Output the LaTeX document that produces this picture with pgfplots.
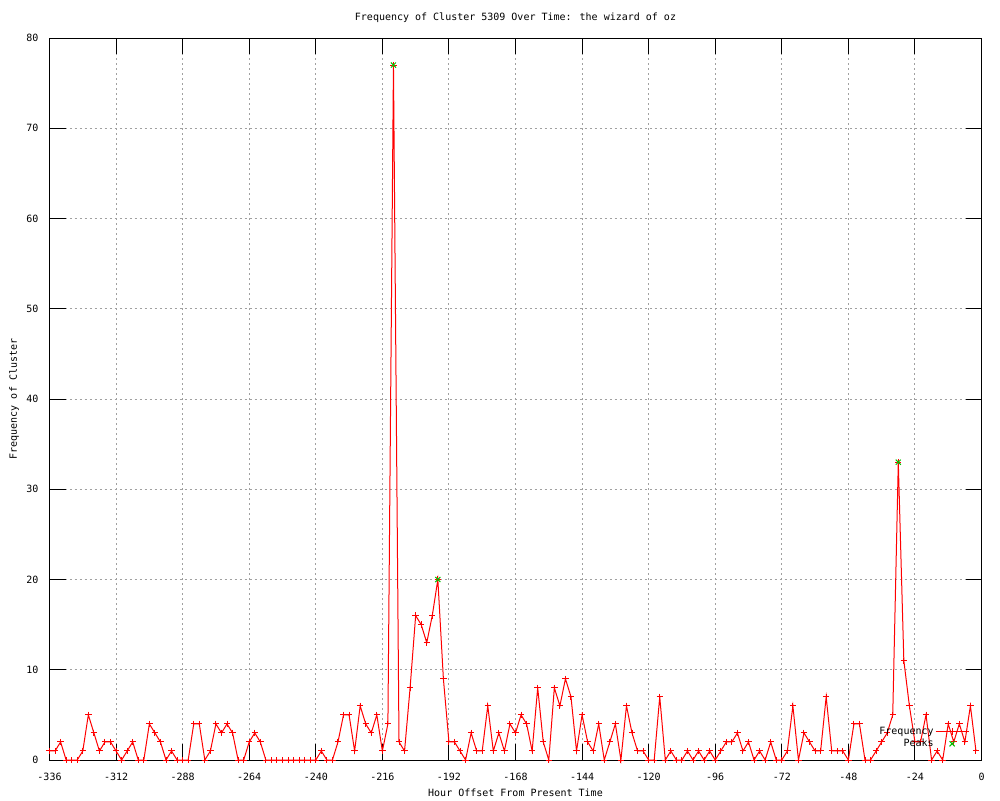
\documentclass[border=0pt]{standalone}
\usepackage{pgfplots}
\pgfplotsset{compat=1.18}
\usepackage{pgfplotstable}
\usepackage{fontspec}
\setmainfont{DejaVu Sans Mono}
\newcommand{\gpf}{\fontsize{5pt}{6pt}\selectfont}
\definecolor{gpred}{RGB}{255,0,0}
\definecolor{gpgreen}{RGB}{0,192,0}
\definecolor{gpgrid}{RGB}{160,160,160}

\pgfplotstableread{
h v
-336 1
-334 1
-332 2
-330 0
-328 0
-326 0
-324 1
-322 5
-320 3
-318 1
-316 2
-314 2
-312 1
-310 0
-308 1
-306 2
-304 0
-302 0
-300 4
-298 3
-296 2
-294 0
-292 1
-290 0
-288 0
-286 0
-284 4
-282 4
-280 0
-278 1
-276 4
-274 3
-272 4
-270 3
-268 0
-266 0
-264 2
-262 3
-260 2
-258 0
-256 0
-254 0
-252 0
-250 0
-248 0
-246 0
-244 0
-242 0
-240 0
-238 1
-236 0
-234 0
-232 2
-230 5
-228 5
-226 1
-224 6
-222 4
-220 3
-218 5
-216 1
-214 4
-212 77
-210 2
-208 1
-206 8
-204 16
-202 15
-200 13
-198 16
-196 20
-194 9
-192 2
-190 2
-188 1
-186 0
-184 3
-182 1
-180 1
-178 6
-176 1
-174 3
-172 1
-170 4
-168 3
-166 5
-164 4
-162 1
-160 8
-158 2
-156 0
-154 8
-152 6
-150 9
-148 7
-146 1
-144 5
-142 2
-140 1
-138 4
-136 0
-134 2
-132 4
-130 0
-128 6
-126 3
-124 1
-122 1
-120 0
-118 0
-116 7
-114 0
-112 1
-110 0
-108 0
-106 1
-104 0
-102 1
-100 0
-98 1
-96 0
-94 1
-92 2
-90 2
-88 3
-86 1
-84 2
-82 0
-80 1
-78 0
-76 2
-74 0
-72 0
-70 1
-68 6
-66 0
-64 3
-62 2
-60 1
-58 1
-56 7
-54 1
-52 1
-50 1
-48 0
-46 4
-44 4
-42 0
-40 0
-38 1
-36 2
-34 3
-32 5
-30 33
-28 11
-26 6
-24 2
-22 2
-20 5
-18 0
-16 1
-14 0
-12 4
-10 2
-8 4
-6 2
-4 6
-2 1
}\freqdata

\pgfplotstableread{
h v
-212 77
-196 20
-30 33
}\peakdata

\begin{document}
\begin{tikzpicture}
\useasboundingbox (0,0) rectangle (500pt,400pt);
\begin{axis}[
  at={(24.75pt,20pt)}, anchor=south west,
  scale only axis, width=466pt, height=361pt,
  xmin=-336, xmax=0, ymin=0, ymax=80,
  xtick={-336,-312,-288,-264,-240,-216,-192,-168,-144,-120,-96,-72,-48,-24,0},
  xticklabels={-336,-312,-288,-264,-240,-216,-192,-168,-144,-120,-96,-72,-48,-24,0},
  ytick={0,10,20,30,40,50,60,70,80},
  yticklabels={0,10,20,30,40,50,60,70,80},
  tick align=inside, major tick length=8pt,
  tick style={black, line width=0.5pt},
  axis line style={black, line width=0.5pt},
  grid=major,
  grid style={gpgrid, line width=0.5pt, dash pattern=on 1pt off 1.5pt},
  tick label style={font=\gpf},
  xticklabel style={yshift=-3pt},
  yticklabel style={xshift=-2pt},
  every axis title shift=0pt,
  title={Frequency of Cluster 5309 Over Time: the wizard of oz},
  title style={font=\gpf, at={(axis description cs:0.5,1.0277)}, anchor=center},
  xlabel={Hour Offset From Present Time},
  xlabel style={font=\gpf, at={(axis description cs:0.5,-0.0457)}, anchor=center},
  ylabel={Frequency of Cluster},
  ylabel style={font=\gpf, at={(axis description cs:-0.0381,0.5)}, anchor=center},
  clip=false,
  legend plot pos=right,
  legend cell align=right,
  legend image code/.code={\draw[mark repeat=2,mark phase=2] plot coordinates {(0pt,0pt)(8.25pt,0pt)(16.5pt,0pt)};},
  legend style={draw=none, fill=none, font=\gpf, inner sep=0pt, row sep=0pt,
    nodes={inner sep=0.75pt, text height=3.7pt, text depth=1pt},
    at={(axis description cs:1,0)}, anchor=south east, xshift=-6pt, yshift=4.8pt},
]
\addplot[gpred, line width=0.5pt, mark=+, mark size=1.6pt, mark options={line width=0.5pt}] table[x=h,y=v] {\freqdata};
\addlegendentry{Frequency}
\addplot[gpgreen, only marks, mark=x, mark size=1.8pt, mark options={line width=0.5pt}] table[x=h,y=v] {\peakdata};
\addlegendentry{Peaks}
\end{axis}
\end{tikzpicture}
\end{document}
